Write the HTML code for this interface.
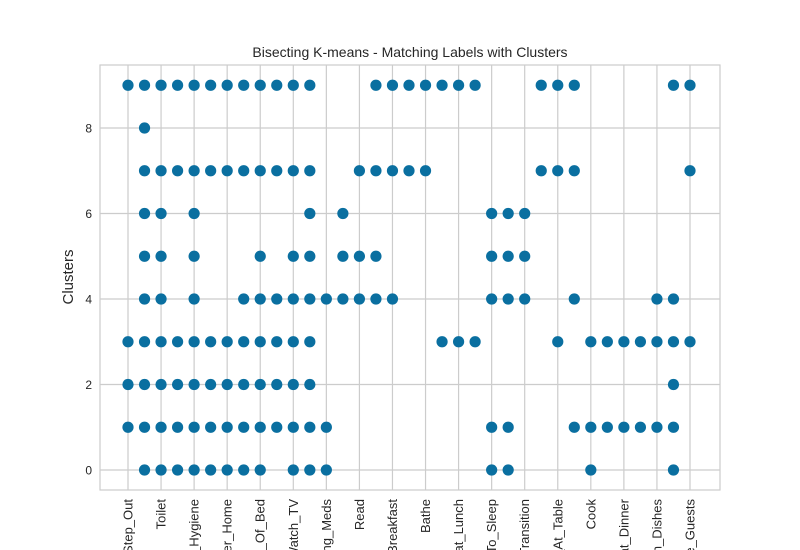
<!DOCTYPE html>
<html><head><meta charset="utf-8"><style>
html,body{margin:0;background:#fff;width:800px;height:550px;overflow:hidden;}
svg{display:block;font-family:"Liberation Sans","DejaVu Sans",sans-serif;overflow:hidden;}
</style></head><body>
<svg id="chart" width="800" height="550" xmlns="http://www.w3.org/2000/svg">
<rect x="0" y="0" width="800" height="550" fill="#fff"/>
<g id="grid"></g>
<rect x="100" y="65" width="620" height="425" fill="none" stroke="#cccccc" stroke-width="1.2"/>
<g id="marks"></g>
<g id="xt"></g>
<g id="yt"></g>
<text x="410" y="57" text-anchor="middle" font-size="14" fill="#262626">Bisecting K-means - Matching Labels with Clusters</text>
<text transform="translate(73,277) rotate(-90)" text-anchor="middle" font-size="15" fill="#262626">Clusters</text>
</svg>
<script>
const categories=["Step_Out","Use_Toilet_A","Toilet","Groom","Personal_Hygiene","Dress","Enter_Home","Relax","Get_Out_Of_Bed","Phone","Watch_TV","Nap","Morning_Meds","Work","Read","Eat_Breakfast","Make_Breakfast","Wash","Bathe","Make_Lunch","Eat_Lunch","Clean","Go_To_Sleep","Bed_Toilet","Bed_Transition","Snack","Eat_At_Table","Evening_Meds","Cook","Make_Dinner","Eat_Dinner","Tidy","Wash_Dishes","Leave_Home","Have_Guests"];
const labelEvery=2;
const pointCat=[
 0,1,2,3,4,5,6,7,8,9,10,11,15,16,17,18,19,20,21,25,26,27,33,34,
 1,
 1,2,3,4,5,6,7,8,9,10,11,14,15,16,17,18,25,26,27,34,
 1,2,4,11,13,22,23,24,
 1,2,4,8,10,11,13,14,15,22,23,24,
 1,2,4,7,8,9,10,11,12,13,14,15,16,22,23,24,27,32,33,
 0,1,2,3,4,5,6,7,8,9,10,11,19,20,21,26,28,29,30,31,32,33,34,
 0,1,2,3,4,5,6,7,8,9,10,11,33,
 0,1,2,3,4,5,6,7,8,9,10,11,12,22,23,27,28,29,30,31,32,33,
 1,2,3,4,5,6,7,8,10,11,12,22,23,28,33
];
const pointCluster=[].concat(
 Array(24).fill(9),[8],Array(20).fill(7),Array(8).fill(6),Array(12).fill(5),
 Array(19).fill(4),Array(23).fill(3),Array(13).fill(2),Array(22).fill(1),Array(15).fill(0));
const yTicks=[0,2,4,6,8];

const NS="http://www.w3.org/2000/svg";
const L=100,R=720,T=65,B=490;
const x=i=>128+i*(690-128)/(categories.length-1);
const y=v=>470-v*(470-128)/8;
function mk(t,a,p){const e=document.createElementNS(NS,t);for(const k in a)e.setAttribute(k,a[k]);p.appendChild(e);return e;}
const grid=document.getElementById('grid'),marks=document.getElementById('marks'),xt=document.getElementById('xt'),yt=document.getElementById('yt');
yTicks.forEach(v=>{
 const g=mk('line',{x1:L,x2:R,y1:y(v),y2:y(v),stroke:'#cccccc','stroke-width':1.2},grid);
 
 
 const t=mk('text',{x:92,y:y(v)+4.5,'text-anchor':'end','font-size':12,fill:'#262626'},yt);
 t.textContent=v;
 
 
});
categories.forEach((c,i)=>{
 if(i%labelEvery) return;
 const g=mk('line',{x1:x(i),x2:x(i),y1:T,y2:B,stroke:'#cccccc','stroke-width':1.2},grid);
 
 
 const t=mk('text',{transform:`translate(${x(i)+4.5},499) rotate(-90)`,'text-anchor':'end','font-size':13,fill:'#262626'},xt);
 t.textContent=c;
 
 
});
pointCat.forEach((c,k)=>{
 const p=mk('circle',{cx:x(c),cy:y(pointCluster[k]),r:5.6,fill:'#0a6fa0'},marks);
 
 
});
</script>
</body></html>
